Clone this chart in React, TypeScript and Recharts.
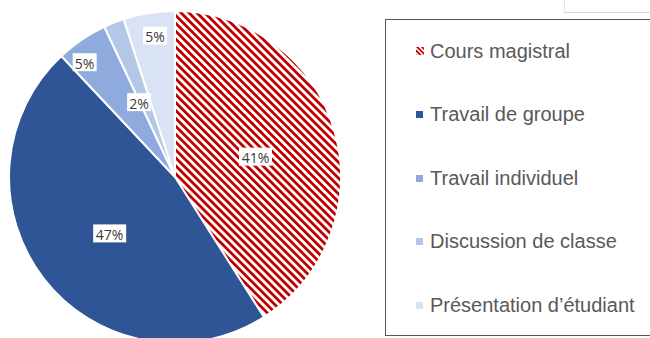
import { PieChart, Pie, Cell } from "recharts";

const CATEGORIES = [
  "Cours magistral",
  "Travail de groupe",
  "Travail individuel",
  "Discussion de classe",
  "Présentation d’étudiant",
];
const VALUES = [41, 47, 5, 2, 5];

const COLORS = ["url(#hatch)", "#2F5597", "#8FAADC", "#B4C7E7", "#DAE3F3"];
// where each percentage box sits (fraction of radius, angle nudge in degrees)
const LABEL_POS = [
  { r: 0.5, shift: -2 },
  { r: 0.52, shift: 3 },
  { r: 0.88, shift: 4 },
  { r: 0.5, shift: 4 },
  { r: 0.86, shift: -1 },
];

const RADIAN = Math.PI / 180;
const data = CATEGORIES.map((name, i) => ({ name, value: VALUES[i] }));

function renderLabel(props: any) {
  const { cx, cy, midAngle, outerRadius, index, percent } = props;
  const pos = LABEL_POS[index];
  const a = (midAngle + pos.shift) * RADIAN;
  const x = cx + outerRadius * pos.r * Math.cos(-a);
  const y = cy + outerRadius * pos.r * Math.sin(-a);
  const text = `${Math.round(percent * 100)}%`;
  const w = text.length * 9 + 6;
  return (
    <g>
      <rect x={x - w / 2} y={y - 9} width={w} height={18} fill="#fff" />
      <text
        x={x}
        y={y + 1}
        textAnchor="middle"
        dominantBaseline="central"
        fontSize={14}
        fontFamily="'Open Sans', sans-serif"
        fill="#3a3a3a"
      >
        {text}
      </text>
    </g>
  );
}

function Marker({ i }: { i: number }) {
  if (i === 0) {
    return (
      <svg width={8} height={8} style={{ marginRight: 6 }}>
        <rect width={8} height={8} fill="url(#hatchSmall)" />
      </svg>
    );
  }
  return (
    <span
      style={{
        display: "inline-block",
        width: 7,
        height: 7,
        background: COLORS[i],
        marginRight: 7,
      }}
    />
  );
}

export default function App() {
  return (
    <div
      style={{
        position: "absolute",
        left: 0,
        top: 0,
        width: 650,
        height: 338,
        background: "#fff",
        overflow: "hidden",
      }}
    >
      <PieChart width={350} height={338} margin={{ top: 0, right: 0, bottom: 0, left: 0 }}>
        <defs>
          <pattern
            id="hatch"
            patternUnits="userSpaceOnUse"
            width={5.6}
            height={5.6}
            patternTransform="rotate(-45)"
          >
            <rect width={5.6} height={5.6} fill="#fff" />
            <rect width={2.8} height={5.6} fill="#C00000" />
          </pattern>
          <pattern
            id="hatchSmall"
            patternUnits="userSpaceOnUse"
            width={3.4}
            height={3.4}
            patternTransform="rotate(-45)"
          >
            <rect width={3.4} height={3.4} fill="#fff" />
            <rect width={1.8} height={3.4} fill="#C00000" />
          </pattern>
        </defs>
        <Pie
          data={data}
          dataKey="value"
          cx={175}
          cy={177}
          outerRadius={166}
          startAngle={90}
          endAngle={-270}
          stroke="#fff"
          strokeWidth={2}
          label={renderLabel}
          labelLine={false}
          isAnimationActive={false}
        >
          {data.map((_, i) => (
            <Cell key={i} fill={COLORS[i]} />
          ))}
        </Pie>
      </PieChart>

      <div
        style={{
          position: "absolute",
          left: 564,
          top: -1,
          width: 100,
          height: 13,
          borderLeft: "1px solid #e3e3e3",
          borderBottom: "1px solid #d9d9d9",
        }}
      />
      <div
        style={{
          position: "absolute",
          left: 385,
          top: 19,
          width: 290,
          height: 317,
          border: "1.5px solid #555",
          boxSizing: "border-box",
        }}
      >
        {CATEGORIES.map((name, i) => (
          <div
            key={name}
            style={{
              position: "absolute",
              left: 30,
              top: 31 + i * 63.6 - 14,
              height: 28,
              display: "flex",
              alignItems: "center",
              fontFamily: "'Liberation Sans', Arial, sans-serif",
              fontSize: 20,
              color: "#595959",
              whiteSpace: "nowrap",
            }}
          >
            <Marker i={i} />
            {name}
          </div>
        ))}
      </div>
    </div>
  );
}
